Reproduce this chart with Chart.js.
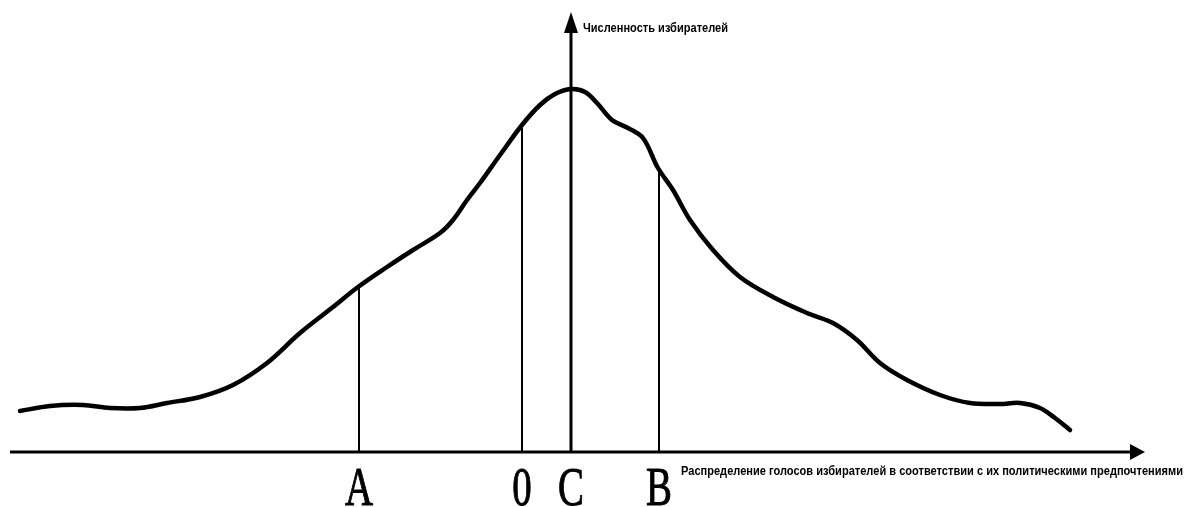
<!DOCTYPE html>
<html>
<head>
<meta charset="utf-8">
<script src="https://cdn.jsdelivr.net/npm/chart.js@4/dist/chart.umd.min.js"></script>
<style>
  html, body { margin: 0; padding: 0; background: #fff; }
  #wrap { width: 1186px; height: 507px; position: relative; }
</style>
</head>
<body>
<div id="wrap"><canvas id="c"></canvas></div>
<script>
// ---------------- данные ----------------
// кривая: позиция по оси и численность избирателей (высота над осью)
const curveX = [20, 50, 83, 110, 140, 167, 200, 233, 267, 300, 333, 358, 387, 413, 440, 453, 467, 480, 500, 522,
                540, 555, 571, 585, 597, 612, 628, 643, 658, 673, 690, 713, 740, 773, 807, 833, 857, 880, 907, 940,
                970, 1000, 1020, 1040, 1055, 1070];
const curveY = [41, 46, 47, 44, 44, 49, 55, 67, 89, 119, 145, 165, 185, 202, 219, 232, 252, 269, 297, 327,
                347, 358, 363, 360, 349, 332, 324, 314, 284, 262, 232, 202, 175, 155, 139, 129, 112, 89, 72, 57,
                49, 48, 49, 44, 34, 22];

// отметки на оси
const markerLabels = ['A', '0', 'C', 'B'];
const markerX = [359, 522, 571, 659];
const markerTop = [165, 327, 440, 284];

const xTitle = 'Распределение голосов избирателей в соответствии с их политическими предпочтениями';
const yTitle = 'Численность избирателей';

// ---------------- оформление ----------------
const config = {
  xMin: 0, xMax: 1186,
  yMin: -55, yMax: 452,
  ink: '#000'
};

const datasets = [{
  data: curveX.map((x, i) => ({ x: x, y: curveY[i] })),
  borderColor: config.ink,
  borderWidth: 4.5,
  pointRadius: 0,
  tension: 0.35,
  borderCapStyle: 'round',
  borderJoinStyle: 'round',
  fill: false
}];

// вертикальные линии (кроме C — это сама ось)
markerLabels.forEach((lbl, i) => {
  if (lbl === 'C') return;
  datasets.push({
    data: [{ x: markerX[i], y: 0 }, { x: markerX[i], y: markerTop[i] }],
    borderColor: config.ink,
    borderWidth: 2,
    pointRadius: 0,
    fill: false
  });
});

function fitText(ctx, text, x, y, width) {
  const w = ctx.measureText(text).width;
  ctx.save();
  ctx.translate(x, y);
  ctx.scale(width / w, 1);
  ctx.fillText(text, 0, 0);
  ctx.restore();
}

const axesPlugin = {
  id: 'axesPlugin',
  afterDraw(chart) {
    const ctx = chart.ctx;
    const sx = chart.scales.x, sy = chart.scales.y;
    const y0 = sy.getPixelForValue(0);
    const cIdx = markerLabels.indexOf('C');
    const xc = sx.getPixelForValue(markerX[cIdx]);
    ctx.save();
    ctx.strokeStyle = config.ink;
    ctx.fillStyle = config.ink;

    // ось X
    ctx.lineWidth = 3;
    ctx.beginPath();
    ctx.moveTo(10, y0);
    ctx.lineTo(1132, y0);
    ctx.stroke();
    ctx.beginPath();
    ctx.moveTo(1145, y0);
    ctx.lineTo(1130, y0 - 8);
    ctx.lineTo(1130, y0 + 8);
    ctx.closePath();
    ctx.fill();

    // ось Y
    ctx.lineWidth = 3;
    ctx.beginPath();
    ctx.moveTo(xc, y0);
    ctx.lineTo(xc, 30);
    ctx.stroke();
    ctx.beginPath();
    ctx.moveTo(xc, 12);
    ctx.lineTo(xc - 7, 33);
    ctx.lineTo(xc + 7, 33);
    ctx.closePath();
    ctx.fill();

    // подписи осей
    ctx.font = 'bold 13px "Liberation Sans Narrow", "Liberation Sans", Arial, sans-serif';
    ctx.textBaseline = 'middle';
    ctx.textAlign = 'left';
    fitText(ctx, yTitle, xc + 12, 28, 145);
    fitText(ctx, xTitle, 681, 471, 502);

    // буквы под осью
    ctx.font = '54px "Liberation Serif", "DejaVu Serif", serif';
    ctx.textBaseline = 'alphabetic';
    ctx.textAlign = 'center';
    markerLabels.forEach((lbl, i) => {
      const px = sx.getPixelForValue(markerX[i]);
      ctx.save();
      ctx.translate(px, 505);
      ctx.scale(0.72, 1);
      ctx.lineWidth = 1;
      ctx.strokeStyle = config.ink;
      ctx.fillText(lbl, 0, 0);
      ctx.strokeText(lbl, 0, 0);
      ctx.restore();
    });
    ctx.restore();
  }
};

new Chart(document.getElementById('c'), {
  type: 'line',
  data: { datasets: datasets },
  options: {
    responsive: true,
    maintainAspectRatio: false,
    animation: false,
    layout: { padding: 0 },
    plugins: { legend: { display: false }, tooltip: { enabled: false } },
    scales: {
      x: { type: 'linear', min: config.xMin, max: config.xMax, display: false },
      y: { type: 'linear', min: config.yMin, max: config.yMax, display: false }
    }
  },
  plugins: [axesPlugin]
});
</script>
</body>
</html>
